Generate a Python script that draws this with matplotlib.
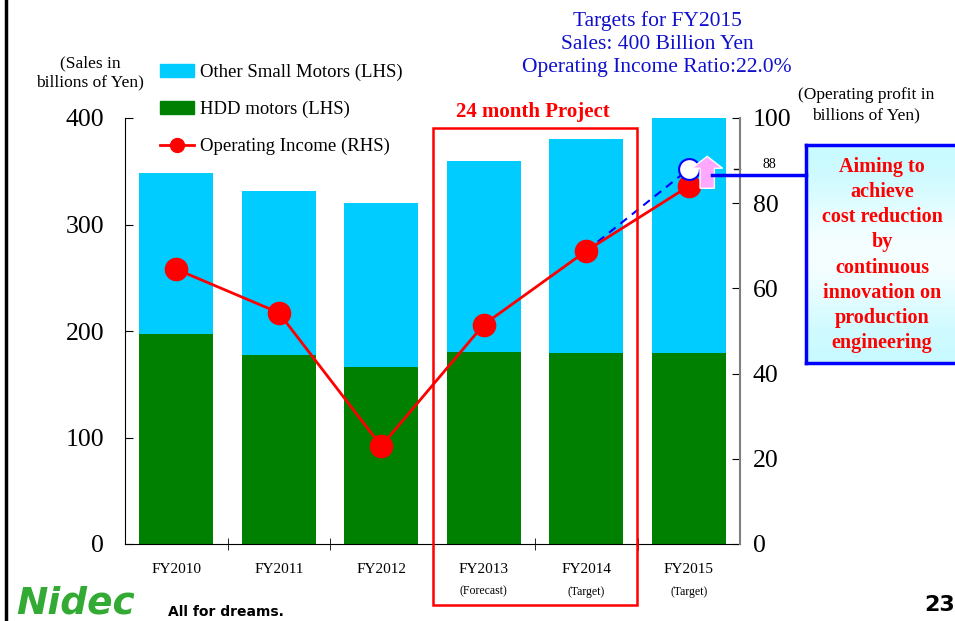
import numpy as np
import matplotlib.pyplot as plt
from matplotlib.patches import Rectangle, FancyArrow
from matplotlib.lines import Line2D
from matplotlib.colors import LinearSegmentedColormap

plt.rcParams['font.family'] = ['Liberation Serif', 'DejaVu Serif']

# ---------- data ----------
years = ["FY2010", "FY2011", "FY2012", "FY2013", "FY2014", "FY2015"]
sublabels = ["", "", "", "(Forecast)", "(Target)", "(Target)"]
total_sales = [348, 331, 320, 360, 380, 400]     # billions of yen (LHS)
hdd_sales = [197, 177, 166, 180, 179, 179]       # billions of yen (LHS)
op_income = [64.5, 54.3, 23.0, 51.5, 68.8, 84.0]  # billions of yen (RHS)
target_income = 88
other_sales = [t - h for t, h in zip(total_sales, hdd_sales)]

CYAN = "#00CCFF"
GREEN = "#008000"
RED = "#FF0000"
BLUE = "#0000FF"

fig = plt.figure(figsize=(9.55, 6.21), dpi=100)
W, H = 955, 621
ax = fig.add_axes([125 / W, 1 - 544 / H, 615 / W, 426 / H])
x = np.arange(len(years))

ax.bar(x, hdd_sales, 0.72, color=GREEN, zorder=2)
ax.bar(x, other_sales, 0.72, bottom=hdd_sales, color=CYAN, zorder=2)
ax.set_xlim(-0.5, len(years) - 0.5)
ax.set_ylim(0, 400)
ax.set_yticks([0, 100, 200, 300, 400])
ax.tick_params(axis="y", direction="in", labelsize=18.5, pad=15, length=6)
ax.set_xticks(x)
ax.set_xticklabels([""] * len(years))
ax.tick_params(axis="x", length=0)
ax.set_xticks(np.arange(0.5, len(years) - 0.5, 1), minor=True)
ax.tick_params(axis="x", which="minor", direction="inout", length=8)
for sp in ["top", "right"]:
    ax.spines[sp].set_visible(False)

for i, (y, s) in enumerate(zip(years, sublabels)):
    ax.text(i, -18, y, ha="center", va="top", fontsize=11)
    if s:
        ax.text(i, -39, s, ha="center", va="top", fontsize=8.5)

ax2 = ax.twinx()
ax2.set_ylim(0, 100)
ax2.set_yticks([0, 20, 40, 60, 80, 100])
ax2.tick_params(axis="y", direction="in", labelsize=18.5, pad=9, length=6)
for sp in ["top", "left", "bottom"]:
    ax2.spines[sp].set_visible(False)
ax2.spines["right"].set_color("#808080")
ax2.spines["right"].set_linewidth(1.5)

ax2.plot([x[4], x[5]], [op_income[4], target_income], ls=(0, (4, 3)), color=BLUE, lw=1.5, zorder=3)
ax2.plot(x, op_income, color=RED, lw=2, marker="o", markersize=16, zorder=4)
ax2.plot([x[5]], [target_income], marker="o", markersize=15, mfc="white", mec=BLUE, mew=1.5, zorder=5)
# small "88" tick on the right axis
ax2.plot([5.5, 5.5 - 0.06], [target_income, target_income], color="black", lw=1, clip_on=False)
ax2.text(5.5 + 0.22, target_income + 1, "88", ha="left", va="center", fontsize=10)
# pink arrow
ax2.add_patch(FancyArrow(5.18, 83.5, 0, 7.5, width=0.14, head_width=0.3, head_length=2.8,
                         facecolor="#FFA8FF", edgecolor="white", lw=1, zorder=6,
                         length_includes_head=True))

# ---------- legend ----------
handles = [
    Rectangle((0, 0), 1, 1, color=CYAN),
    Rectangle((0, 0), 1, 1, color=GREEN),
    Line2D([], [], color=RED, lw=2, marker="o", markersize=10),
]
fig.legend(handles, ["Other Small Motors (LHS)", "HDD motors (LHS)", "Operating Income (RHS)"],
           loc="upper left", bbox_to_anchor=(160 / W, 1 - 64 / H), frameon=False,
           fontsize=13.5, labelspacing=1.05, handlelength=1.8, handleheight=0.7, handletextpad=0.35,
           borderpad=0, borderaxespad=0)

# ---------- annotations ----------
fig.text(90 / W, 1 - 73 / H, "(Sales in\nbillions of Yen)", ha="center", va="center",
         fontsize=12.5, linespacing=1.25)
fig.text(866 / W, 1 - 105 / H, "(Operating profit in\nbillions of Yen)", ha="center", va="center",
         fontsize=12.5, linespacing=1.4)
fig.text(657 / W, 1 - 44 / H, "Targets for FY2015\nSales: 400 Billion Yen\nOperating Income Ratio:22.0%",
         ha="center", va="center", fontsize=15.5, color="#1010CC", linespacing=1.3)
fig.text(533 / W, 1 - 112 / H, "24 month Project", ha="center", va="center", fontsize=15,
         color=RED, fontweight="bold")
fig.patches.append(Rectangle((433 / W, 1 - 605 / H), 204 / W, 477 / H, transform=fig.transFigure,
                             fill=False, edgecolor=RED, lw=1.8, zorder=10))

# callout box with light gradient
grad = np.array([0.0, 0.5, 1.0, 0.5, 0.0]).reshape(-1, 1)
box_ax = fig.add_axes([806 / W, 1 - 363 / H, 155 / W, 218 / H])
box_ax.imshow(grad, aspect="auto", cmap=LinearSegmentedColormap.from_list("c", ["#C8FAFF", "#FFFFFF"]),
              extent=[0, 1, 0, 1], interpolation="bicubic")
box_ax.set_xlim(0, 1)
box_ax.set_ylim(0, 1)
box_ax.set_xticks([])
box_ax.set_yticks([])
for sp in box_ax.spines.values():
    sp.set_color(BLUE)
    sp.set_linewidth(2.5)
fig.text(882 / W, 1 - 255 / H,
         "Aiming to\nachieve\ncost reduction\nby\ncontinuous\ninnovation on\nproduction\nengineering",
         ha="center", va="center", fontsize=14.5, color=RED, fontweight="bold", linespacing=1.34)
fig.lines.append(Line2D([712 / W, 806 / W], [1 - 175 / H, 1 - 175 / H], transform=fig.transFigure,
                        color=BLUE, lw=2.5))

# slide border and footer
fig.lines.append(Line2D([6 / W, 6 / W], [0, 1], transform=fig.transFigure, color="black", lw=2.5))
fig.text(16 / W, 1 - 604 / H, "Nidec", ha="left", va="center", fontsize=27, color="#33AA33",
         fontweight="bold", style="italic", family="DejaVu Sans")
fig.text(168 / W, 1 - 612 / H, "All for dreams.", ha="left", va="center", fontsize=10,
         color="black", fontweight="bold", family="DejaVu Sans")
fig.text(940 / W, 1 - 605 / H, "23", ha="center", va="center", fontsize=16, fontweight="bold",
         family="DejaVu Sans")

fig.savefig("out.png", dpi=100)
